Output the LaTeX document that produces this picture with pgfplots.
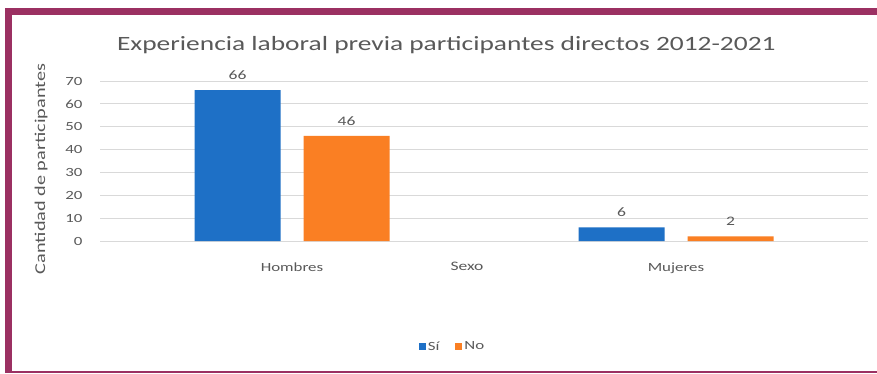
\documentclass[border=0pt]{standalone}
\usepackage{pgfplots}
\pgfplotsset{compat=1.18}
\usepackage{fontspec}
\setmainfont{Carlito}[FakeStretch=1.35]

\definecolor{frameC}{RGB}{155,48,98}
\definecolor{barBlue}{RGB}{30,112,198}
\definecolor{barOrange}{RGB}{250,127,35}
\definecolor{txtGray}{RGB}{89,89,89}
\definecolor{gridGray}{RGB}{217,217,217}

\begin{document}
\begin{tikzpicture}[x=1pt,y=1pt]
  % page area and frame
  \fill[white] (0,0) rectangle (877,373);
  \fill[frameC] (5,358) rectangle (877,365);
  \fill[frameC] (5,0) rectangle (12,365);
  \fill[frameC] (5,0) rectangle (877,2);

  \begin{axis}[
    at={(100pt,132pt)}, anchor=south west,
    scale only axis, width=768pt, height=160pt,
    xmin=-0.5, xmax=1.5, ymin=0, ymax=70,
    xtick={0,1}, xticklabels={Hombres,Mujeres},
    ytick={0,10,...,70},
    axis line style={draw=none},
    major tick length=0pt,
    ymajorgrids, grid style={gridGray, line width=0.8pt},
    tick label style={font=\fontsize{12.5}{14}\selectfont, text=txtGray},
    /pgf/number format/assume math mode=true,
    yticklabel style={xshift=-14pt},
    xticklabel style={yshift=-18pt},
    ylabel={Cantidad de participantes},
    ylabel style={font=\fontsize{15}{17}\selectfont, text=txtGray, at={(axis description cs:-0.0768,0.45)}, anchor=center},
    title={Experiencia laboral previa participantes directos 2012-2021},
    title style={font=\fontsize{20.3}{24}\selectfont, text=txtGray, at={(axis description cs:0.451,1.0)}, anchor=south, yshift=18pt},
    nodes near coords,
    nodes near coords style={font=\fontsize{13}{15}\selectfont, text=txtGray, yshift=7pt},
    legend style={at={(0.459,-0.66)}, anchor=center, draw=none, legend columns=2,
      font=\fontsize{12.5}{14}\selectfont, text=txtGray,
      /tikz/every even column/.append style={column sep=14pt}},
    legend image code/.code={\fill[#1] (0pt,-3.5pt) rectangle (7pt,3.5pt);},
    clip=false,
  ]
    \addplot[ybar, bar width=86pt, bar shift=-54.5pt, fill=barBlue, draw=none,
      every node near coord/.append style={xshift=-54.5pt}] coordinates {(0,66) (1,6)};
    \addplot[ybar, bar width=86pt, bar shift=54.5pt, fill=barOrange, draw=none,
      every node near coord/.append style={xshift=54.5pt}] coordinates {(0,46) (1,2)};
    \legend{Sí,No}
    \node[font=\fontsize{13}{15}\selectfont, text=txtGray] at (axis cs:0.4557,-11) {Sexo};
  \end{axis}
\end{tikzpicture}
\end{document}
